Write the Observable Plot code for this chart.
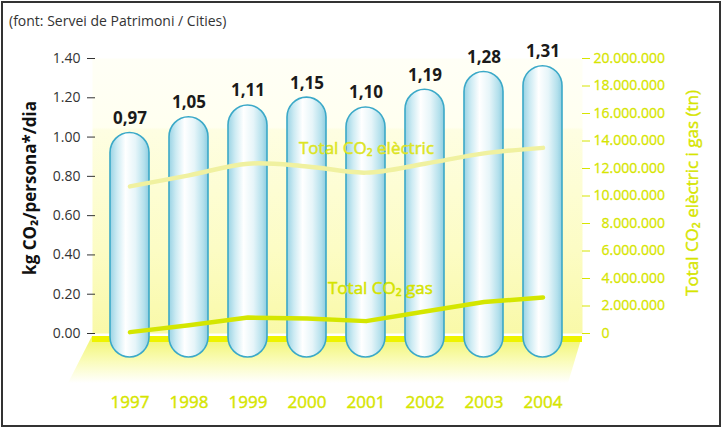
<!DOCTYPE html>
<html>
<head>
<meta charset="utf-8">
<script src="https://cdn.jsdelivr.net/npm/d3@7"></script>
<script src="https://cdn.jsdelivr.net/npm/@observablehq/plot@0.6"></script>
<style>
  html, body { margin: 0; padding: 0; background: #fff; }
  #wrap { position: relative; width: 722px; height: 428px; overflow: hidden; font-family: "Open Sans", sans-serif; }
  #src { position: absolute; left: 9px; top: 11px; font-size: 14px; color: #333; }
  #box { position: absolute; left: 1px; top: 1px; width: 716px; height: 422px; border: 2px solid #333; pointer-events: none; }
  #chart { position: absolute; left: 0; top: 0; }
</style>
</head>
<body>
<div id="wrap">
  <div id="chart"></div>
  <div id="src">(font: Servei de Patrimoni / Cities)</div>
  <div id="box"></div>
</div>
<script>
const years = ["1997", "1998", "1999", "2000", "2001", "2002", "2003", "2004"];
const perCapita = [0.97, 1.05, 1.11, 1.15, 1.10, 1.19, 1.28, 1.31];
const electricTotal = [10700000, 11500000, 12350000, 12150000, 11700000, 12350000, 13100000, 13500000];
const gasTotal = [100000, 600000, 1160000, 1090000, 900000, 1600000, 2290000, 2620000];
const leftTicks = [0, 0.2, 0.4, 0.6, 0.8, 1.0, 1.2, 1.4];
const rightTicks = [0, 2000000, 4000000, 6000000, 8000000, 10000000, 12000000, 14000000, 16000000, 18000000, 20000000];
const leftMax = 1.4;
const rightMax = 20000000;

const lime = "#d6e500";
const toLeft = v => v * leftMax / rightMax;

const bars = years.map((year, i) => ({year, value: perCapita[i]}));
const elec = years.map((year, i) => ({year, value: electricTotal[i]}));
const gas = years.map((year, i) => ({year, value: gasTotal[i]}));

const loc = d3.formatLocale({decimal: ",", thousands: ".", grouping: [3], currency: ["", ""]});
const fmtThousands = loc.format(",");
const fmtComma = loc.format(".2f");
const fmtLeft = d3.format(".2f");
const fmtRight = v => {
  const s = fmtThousands(v);
  return (s.length < 10 ? "\u2007" : "") + s;
};

const chart = Plot.plot({
  width: 722,
  height: 428,
  marginTop: 58,
  marginBottom: 95,
  marginLeft: 86,
  marginRight: 136,
  style: {fontFamily: "Open Sans, sans-serif", background: "transparent"},
  x: {type: "band", domain: years, padding: 1/3, axis: null},
  y: {domain: [0, leftMax], axis: null},
  marks: [
    Plot.frame({fill: "url(#wallGrad)", stroke: null, insetLeft: 6, insetRight: 4}),
    Plot.barY(bars, {
      x: "year", y: "value",
      fill: "url(#pillGrad)", stroke: "#3ba9c8", strokeWidth: 1.6,
      rx: 20, insetTop: -10, insetBottom: -24
    }),
    Plot.lineY(elec, {x: "year", y: d => toLeft(d.value), stroke: "#f0f1a0", strokeWidth: 4.5, curve: "catmull-rom"}),
    Plot.lineY(gas, {x: "year", y: d => toLeft(d.value), stroke: "#d4e600", strokeWidth: 4.5}),
    Plot.text(bars, {
      x: "year", y: "value", text: d => fmtComma(d.value),
      dy: -19, lineAnchor: "bottom", fontSize: 17, fontWeight: "bold", fill: "#1a1a1a"
    }),
    Plot.text(elec.filter(d => d.year === "2000"), {
      x: "year", y: d => toLeft(d.value), text: () => "Total CO\u2082 elèctric",
      textAnchor: "start", lineAnchor: "bottom", dx: -8, dy: -12, fontSize: 17,
      fill: "#dce424", stroke: "#dce424", strokeWidth: 0.5
    }),
    Plot.text(gas.filter(d => d.year === "2000"), {
      x: "year", y: d => toLeft(d.value), text: () => "Total CO\u2082 gas",
      textAnchor: "start", lineAnchor: "bottom", dx: 21, dy: -25, fontSize: 17,
      fill: "#d4e300", stroke: "#d4e300", strokeWidth: 0.5
    }),
    Plot.axisY(leftTicks, {
      anchor: "left", tickFormat: fmtLeft, tickSize: 8, tickPadding: 7, dx: 9,
      fontSize: 14, color: "#333", label: null
    }),
    Plot.axisY(rightTicks.map(toLeft), {
      anchor: "right", tickFormat: (d, i) => fmtRight(rightTicks[i]), tickSize: 8, tickPadding: 4, dx: -5,
      fontSize: 14, color: lime, label: null
    }),
    Plot.axisX({
      tickSize: 0, tickPadding: 62, fontSize: 17, color: lime, label: null
    }),
    Plot.text(["kg CO\u2082/persona*/dia"], {
      frameAnchor: "left", textAnchor: "middle", dx: -56, dy: -8, rotate: -90, text: d => d,
      fontSize: 17, fontWeight: "bold", fill: "#111"
    }),
    Plot.text(["Total CO\u2082 elèctric i gas (tn)"], {
      frameAnchor: "right", textAnchor: "middle", dx: 106, dy: -3, rotate: -90, text: d => d,
      fontSize: 17, fill: lime, stroke: lime, strokeWidth: 0.4
    })
  ]
});

document.getElementById("chart").appendChild(chart);

// slightly heavier lime tick labels (years and right axis)
const svg = d3.select(chart);
svg.selectAll('g[aria-label="x-axis tick label"] text').attr("stroke", lime).attr("stroke-width", 0.45);
const yLabelGroups = svg.selectAll('g[aria-label="y-axis tick label"]').nodes();
if (yLabelGroups.length > 1) d3.select(yLabelGroups[1]).selectAll("text").attr("stroke", lime).attr("stroke-width", 0.3);

// gradients and the decorative floor, positioned from the chart's own scales
const defs = svg.insert("defs", ":first-child");
const pill = defs.append("linearGradient").attr("id", "pillGrad").attr("x1", "0").attr("x2", "1").attr("y1", "0").attr("y2", "0");
[["0%", "#9ad3e4"], ["18%", "#cdebf3"], ["40%", "#ffffff"], ["65%", "#e6f5f9"], ["88%", "#b3e0ec"], ["100%", "#8fcde0"]]
  .forEach(([o, c]) => pill.append("stop").attr("offset", o).attr("stop-color", c));
const wall = defs.append("linearGradient").attr("id", "wallGrad").attr("x1", "0").attr("x2", "0").attr("y1", "0").attr("y2", "1");
[["0%", "#fffff6"], ["25%", "#fffff0"], ["26%", "#fefee2"], ["70%", "#fcfcc4"], ["100%", "#f9f9a8"]]
  .forEach(([o, c]) => wall.append("stop").attr("offset", o).attr("stop-color", c));
const floorG = defs.append("linearGradient").attr("id", "floorGrad").attr("x1", "0").attr("x2", "0").attr("y1", "0").attr("y2", "1");
[["0%", "#f1f56a"], ["55%", "#fafcbc"], ["100%", "#ffffff"]]
  .forEach(([o, c]) => floorG.append("stop").attr("offset", o).attr("stop-color", c));

const xs = chart.scale("x"), ys = chart.scale("y");
const xl = xs.range[0] + 6, xr = xs.range[1] - 4, y0 = ys.apply(0);
const floor = svg.insert("g", "defs + *");
floor.append("polygon")
  .attr("points", [[xl, y0 + 3], [xr, y0 + 3], [xr - 14, y0 + 50], [xl - 24, y0 + 50]].map(p => p.join(",")).join(" "))
  .attr("fill", "url(#floorGrad)");
floor.append("rect").attr("x", xl).attr("y", y0 + 3).attr("width", xr - xl).attr("height", 6).attr("fill", "#eef300");
</script>
</body>
</html>
